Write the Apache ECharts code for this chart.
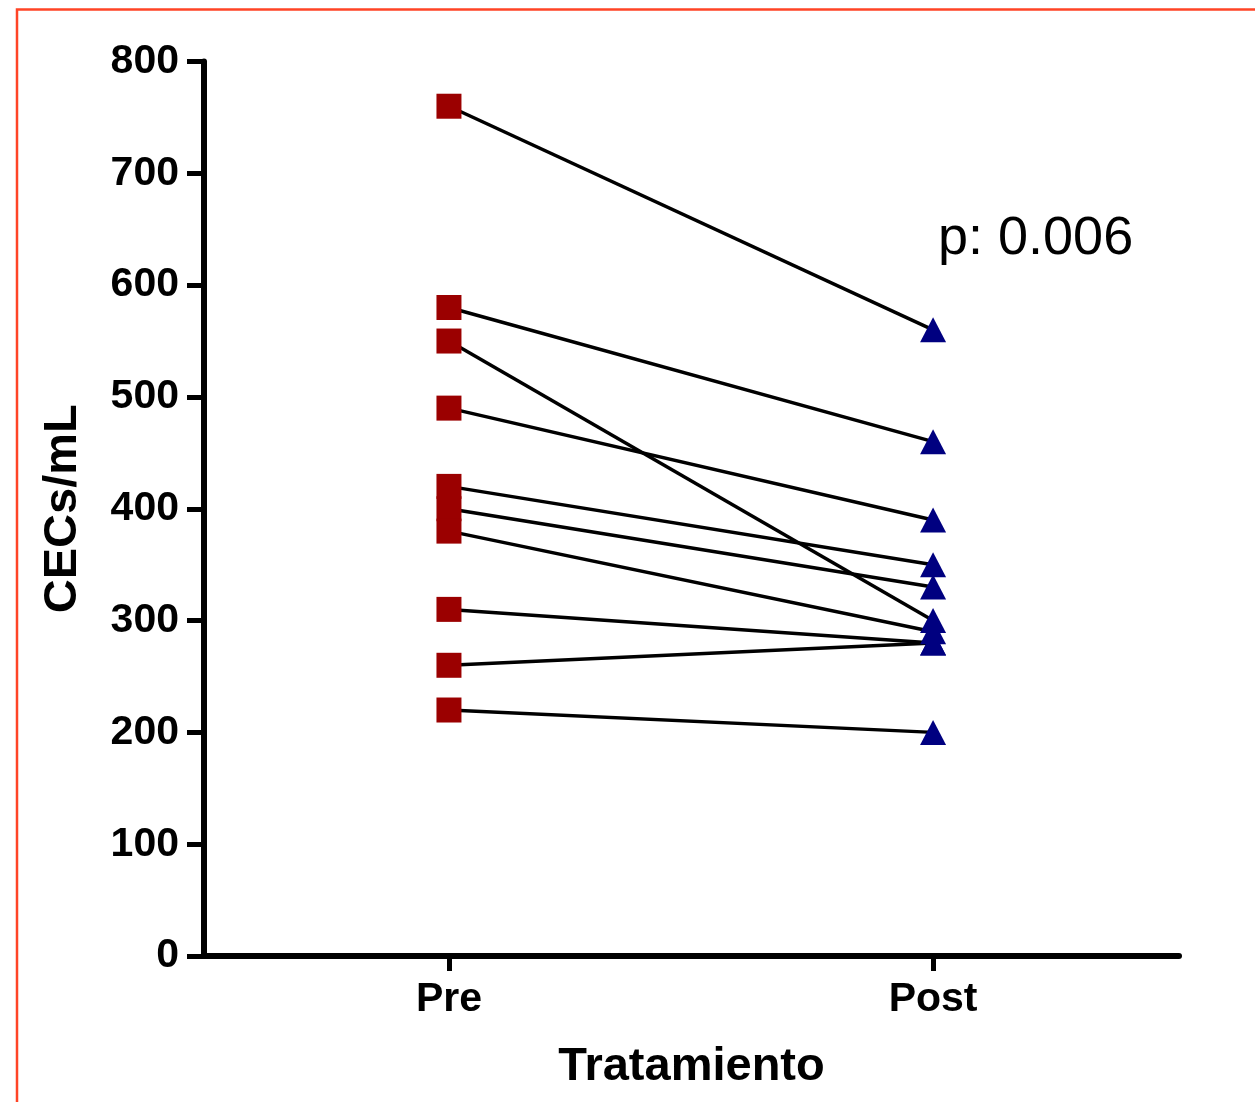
<!DOCTYPE html>
<html lang="es">
<head>
<meta charset="utf-8">
<script src="https://cdn.jsdelivr.net/npm/echarts@6/dist/echarts.min.js"></script>
<style>
  html, body { margin: 0; padding: 0; background: #fff; }
  #main { width: 1255px; height: 1102px; }
</style>
</head>
<body>
<div id="main"></div>
<script type="text/javascript">
  // grupos en el eje x
  var categories = ['Pre', 'Post'];
  // CECs/mL por paciente, antes y despues del tratamiento
  var preValues = [760, 580, 550, 490, 420, 400, 380, 310, 260, 220];
  var postValues = [560, 460, 300, 390, 350, 330, 290, 280, 280, 200];
  var yTicks = [0, 100, 200, 300, 400, 500, 600, 700, 800];
  var pText = 'p: 0.006';

  var font = '"Liberation Sans", Arial, Helvetica, sans-serif';
  var chart = echarts.init(document.getElementById('main'));

  var series = [];
  preValues.forEach(function(v, i) {
    series.push({
      type: 'line',
      data: [[0, v], [1, postValues[i]]],
      showSymbol: false,
      symbol: 'none',
      lineStyle: { color: '#000', width: 3.5 },
      silent: true,
      z: 2,
      animation: false
    });
  });
  series.push({
    type: 'scatter',
    data: preValues.map(function(v) { return [0, v]; }),
    symbol: 'rect',
    symbolSize: 25,
    itemStyle: { color: '#9b0000', opacity: 1 },
    z: 5,
    animation: false
  });
  series.push({
    type: 'scatter',
    data: postValues.map(function(v) { return [1, v]; }),
    symbol: 'triangle',
    symbolSize: [26, 25],
    itemStyle: { color: '#000080', opacity: 1 },
    z: 5,
    animation: false
  });

  var option = {
    backgroundColor: '#fff',
    animation: false,
    grid: { left: 204, right: 1255 - 1179, top: 61.5, bottom: 146 },
    xAxis: {
      type: 'value',
      min: -0.506,
      max: 1.508,
      name: 'Tratamiento',
      nameLocation: 'middle',
      nameGap: 88,
      nameTextStyle: { fontFamily: font, fontWeight: 'bold', fontSize: 47, color: '#000' },
      splitLine: { show: false },
      axisLine: { show: true, onZero: false, lineStyle: { color: '#000', width: 6 } },
      axisTick: { show: true, customValues: [0, 1], length: 15, lineStyle: { color: '#000', width: 5 } },
      axisLabel: {
        customValues: [0, 1],
        formatter: function(v) { return categories[Math.round(v)]; },
        margin: 23,
        fontFamily: font, fontWeight: 'bold', fontSize: 41, color: '#000'
      }
    },
    yAxis: {
      type: 'value',
      min: yTicks[0],
      max: yTicks[yTicks.length - 1],
      interval: 100,
      name: 'CECs/mL',
      nameLocation: 'middle',
      nameGap: 117,
      nameTextStyle: { fontFamily: font, fontWeight: 'bold', fontSize: 47, color: '#000' },
      splitLine: { show: false },
      axisLine: { show: true, onZero: false, lineStyle: { color: '#000', width: 6 } },
      axisTick: { show: true, length: 17, lineStyle: { color: '#000', width: 5 } },
      axisLabel: {
        margin: 25,
        fontFamily: font, fontWeight: 'bold', fontSize: 41, color: '#000'
      }
    },
    graphic: [
      {
        type: 'rect',
        shape: { x: 17, y: 9.5, width: 1400, height: 1300 },
        style: { fill: 'none', stroke: '#ff4426', lineWidth: 2.5 },
        silent: true,
        z: -1
      },
      {
        type: 'text',
        left: 938,
        top: 212,
        style: { text: pText, fontFamily: font, fontSize: 54, fill: '#000' },
        silent: true
      }
    ],
    series: series
  };

  chart.setOption(option);
</script>
</body>
</html>
